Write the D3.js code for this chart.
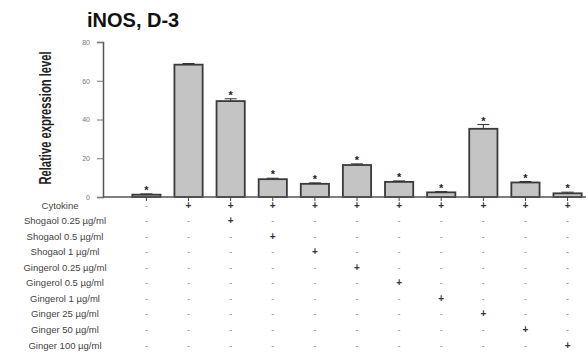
<!DOCTYPE html>
<html>
<head>
<meta charset="utf-8">
<script src="https://cdn.jsdelivr.net/npm/d3@7"></script>
<style>
  body { margin: 0; background: #fff; }
  svg { display: block; font-family: "Liberation Sans", Arial, sans-serif; }
</style>
</head>
<body>
<svg id="chart" width="586" height="355"></svg>
<script>
// values
var groups = ["G1", "G2", "G3", "G4", "G5", "G6", "G7", "G8", "G9", "G10", "G11"];
var values = [1.2, 68.3, 49.5, 9.2, 6.8, 16.5, 7.8, 2.4, 35.2, 7.5, 1.9];
var errors = [0.4, 0.6, 1.2, 0.5, 0.5, 0.6, 0.5, 0.4, 2.2, 0.5, 0.6];
var starred = [1, 0, 1, 1, 1, 1, 1, 1, 1, 1, 1];
var yTicks = [0, 20, 40, 60, 80];
var rowLabels = ["Cytokine", "Shogaol 0.25 \u00b5g/ml", "Shogaol 0.5 \u00b5g/ml", "Shogaol 1 \u00b5g/ml",
  "Gingerol 0.25 \u00b5g/ml", "Gingerol 0.5 \u00b5g/ml", "Gingerol 1 \u00b5g/ml",
  "Ginger 25 \u00b5g/ml", "Ginger 50 \u00b5g/ml", "Ginger 100 \u00b5g/ml"];
// which group gets "+" in each row
var cytokine = [0, 1, 1, 1, 1, 1, 1, 1, 1, 1, 1];
var treatment = [null, 2, 3, 4, 5, 6, 7, 8, 9, 10]; // index of group treated, per row

var svg = d3.select("#chart");

var x = d3.scaleBand()
    .domain(groups)
    .range([126, 588])
    .paddingInner(0.33)
    .paddingOuter(0.15);

var y = d3.scaleLinear()
    .domain([0, 80])
    .range([197, 42]);

// title
svg.append("text")
    .attr("x", 87)
    .attr("y", 27)
    .style("font-size", "20px")
    .style("font-weight", "bold")
    .style("fill", "#111")
    .text("iNOS, D-3");

// y axis label (squeezed, like the condensed font of the original)
svg.append("text")
    .attr("transform", "translate(51,118) rotate(-90) scale(0.7,1)")
    .attr("text-anchor", "middle")
    .style("font-size", "16px")
    .style("font-weight", "bold")
    .style("fill", "#222")
    .text("Relative expression level");

// y axis
var yAxis = svg.append("g")
    .attr("transform", "translate(103,0)")
    .call(d3.axisLeft(y).tickValues(yTicks).tickSize(6).tickPadding(7));
yAxis.select(".domain").attr("stroke", "#555").attr("stroke-width", 1.5);
yAxis.selectAll(".tick line").attr("stroke", "#777");
yAxis.selectAll(".tick text").style("font-size", "7px").style("fill", "#777");

// bars
svg.selectAll(".bar")
    .data(values)
    .enter()
    .append("rect")
    .attr("class", "bar")
    .attr("x", function (d, i) { return x(groups[i]); })
    .attr("y", function (d) { return y(d); })
    .attr("width", x.bandwidth())
    .attr("height", function (d) { return y(0) - y(d); })
    .attr("fill", "#c4c4c4")
    .attr("stroke", "#3a3a3a")
    .attr("stroke-width", 1.8);

// error bars
var err = svg.append("g").attr("stroke", "#333").attr("stroke-width", 1);
values.forEach(function (v, i) {
    var cx = x(groups[i]) + x.bandwidth() / 2;
    err.append("line")
        .attr("x1", cx).attr("x2", cx)
        .attr("y1", y(v)).attr("y2", y(v + errors[i]));
    err.append("line")
        .attr("x1", cx - 6).attr("x2", cx + 6)
        .attr("y1", y(v + errors[i])).attr("y2", y(v + errors[i]));
});

// significance stars
values.forEach(function (v, i) {
    if (!starred[i]) return;
    svg.append("text")
        .attr("class", "star")
        .attr("x", x(groups[i]) + x.bandwidth() / 2)
        .attr("y", y(v + errors[i]) + 0)
        .attr("text-anchor", "middle")
        .style("font-size", "11px")
        .style("font-weight", "bold")
        .style("fill", "#222")
        .text("*");
});

// x axis line + small ticks at bar centres
svg.append("line")
    .attr("x1", 103).attr("x2", 586)
    .attr("y1", y(0)).attr("y2", y(0))
    .attr("stroke", "#555").attr("stroke-width", 1.5);
groups.forEach(function (g) {
    var cx = x(g) + x.bandwidth() / 2;
    svg.append("line")
        .attr("x1", cx).attr("x2", cx)
        .attr("y1", y(0)).attr("y2", y(0) + 4)
        .attr("stroke", "#444");
});

// treatment table
var rowY = d3.scalePoint()
    .domain(rowLabels)
    .range([205, 345]);

svg.selectAll(".rowlabel")
    .data(rowLabels)
    .enter()
    .append("text")
    .attr("class", "rowlabel")
    .attr("x", function (d, i) { return i == 0 ? 60 : 65; })
    .attr("y", function (d) { return rowY(d) + 3.5; })
    .attr("text-anchor", "middle")
    .style("font-size", "9.5px")
    .style("fill", "#444")
    .text(function (d) { return d; });

rowLabels.forEach(function (label, r) {
    groups.forEach(function (g, i) {
        var on = r == 0 ? cytokine[i] == 1 : treatment[r] == i;
        svg.append("text")
            .attr("x", x(g) + x.bandwidth() / 2)
            .attr("y", rowY(label) + 3.5)
            .attr("text-anchor", "middle")
            .style("font-size", on ? "10px" : "9px")
            .style("font-weight", on ? "bold" : "normal")
            .style("fill", on ? "#333" : "#888")
            .text(on ? "+" : "-");
    });
});
</script>
</body>
</html>
